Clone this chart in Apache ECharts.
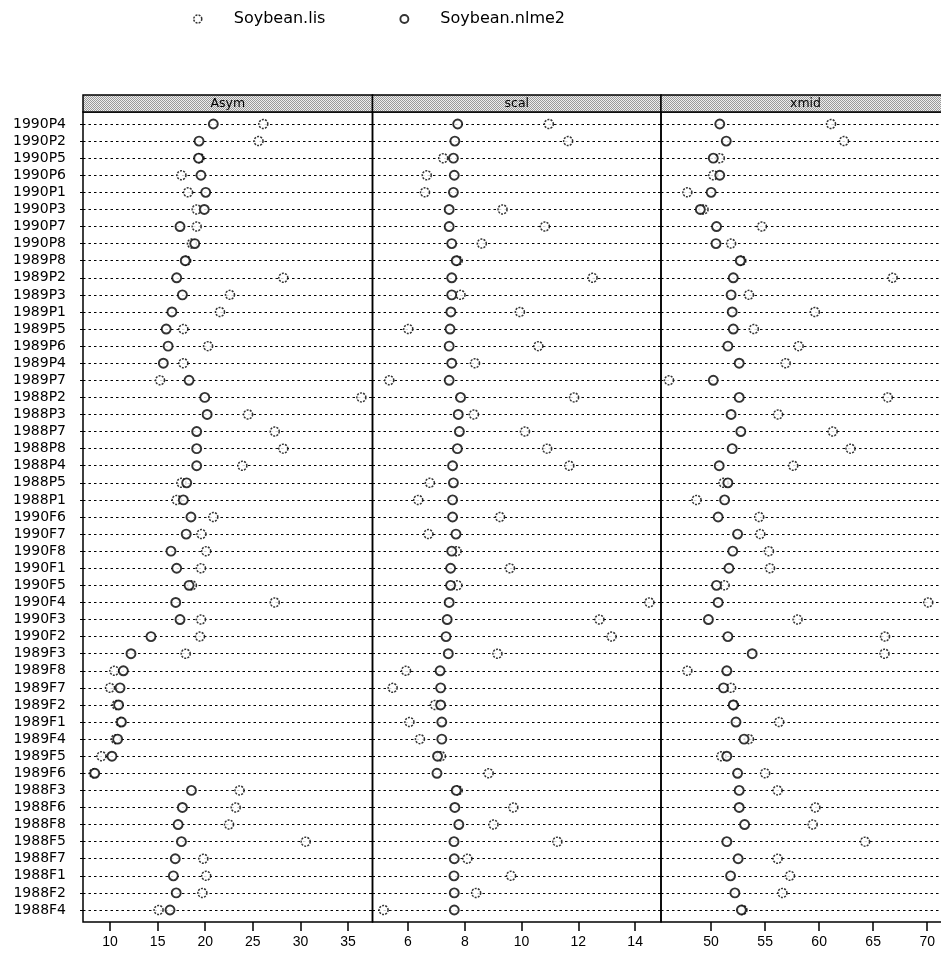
<!DOCTYPE html>
<html>
<head>
<meta charset="utf-8">
<script src="https://cdn.jsdelivr.net/npm/echarts@6/dist/echarts.min.js"></script>
<style>
  html, body { margin: 0; padding: 0; background: #fff; }
  #chart { width: 941px; height: 963px; }
</style>
</head>
<body>
<div id="chart"></div>
<script>
// Plots, top to bottom
const plots = [
  '1990P4','1990P2','1990P5','1990P6','1990P1','1990P3','1990P7','1990P8',
  '1989P8','1989P2','1989P3','1989P1','1989P5','1989P6','1989P4','1989P7',
  '1988P2','1988P3','1988P7','1988P8','1988P4','1988P5','1988P1',
  '1990F6','1990F7','1990F8','1990F1','1990F5','1990F4','1990F3','1990F2',
  '1989F3','1989F8','1989F7','1989F2','1989F1','1989F4','1989F5','1989F6',
  '1988F3','1988F6','1988F8','1988F5','1988F7','1988F1','1988F2','1988F4'
];

// Asym estimates
const asymLis = [
  26.1, 25.6, 19.4, 17.5, 18.2, 19.1, 19.1, 18.6,
  18.0, 28.2, 22.6, 21.55, 17.7, 20.3, 17.7, 15.25,
  36.4, 24.5, 27.3, 28.2, 23.9, 17.5, 17.0,
  20.85, 19.6, 20.1, 19.55, 18.6, 27.3, 19.55, 19.45,
  17.95, 10.45, 10.0, 10.7, 11.1, 10.6, 9.1, 8.3,
  23.6, 23.2, 22.5, 30.55, 19.8, 20.1, 19.7, 15.1
];
const asymNlme = [
  20.85, 19.35, 19.3, 19.55, 20.05, 19.9, 17.35, 18.9,
  17.9, 17.0, 17.6, 16.5, 15.9, 16.1, 15.6, 18.3,
  19.95, 20.2, 19.1, 19.1, 19.1, 18.05, 17.7,
  18.5, 18.0, 16.4, 17.0, 18.3, 16.9, 17.35, 14.3,
  12.2, 11.4, 11.05, 10.9, 11.2, 10.8, 10.2, 8.4,
  18.55, 17.6, 17.15, 17.5, 16.85, 16.65, 16.95, 16.3
];

// scal estimates
const scalLis = [
  10.96, 11.64, 7.24, 6.66, 6.6, 9.33, 10.82, 8.6,
  7.75, 12.5, 7.85, 9.94, 6.01, 10.59, 8.36, 5.34,
  11.85, 8.32, 10.12, 10.9, 11.68, 6.77, 6.36,
  9.24, 6.72, 7.71, 9.59, 7.74, 14.5, 12.74, 13.17,
  9.15, 5.93, 5.46, 6.95, 6.05, 6.42, 7.16, 8.84,
  7.75, 9.71, 9.01, 11.26, 8.09, 9.63, 8.4, 5.14
];
const scalNlme = [
  7.75, 7.65, 7.6, 7.63, 7.6, 7.45, 7.45, 7.54,
  7.7, 7.54, 7.54, 7.51, 7.48, 7.45, 7.54, 7.45,
  7.85, 7.77, 7.81, 7.74, 7.57, 7.6, 7.57,
  7.57, 7.69, 7.54, 7.5, 7.5, 7.45, 7.38, 7.34,
  7.42, 7.13, 7.15, 7.15, 7.19, 7.19, 7.04, 7.02,
  7.7, 7.65, 7.79, 7.62, 7.63, 7.62, 7.63, 7.63
];

// xmid estimates
const xmidLis = [
  61.1, 62.3, 50.8, 50.2, 47.8, 49.3, 54.7, 51.85,
  52.8, 66.8, 53.5, 59.6, 53.95, 58.1, 56.9, 46.1,
  66.35, 56.2, 61.25, 62.9, 57.6, 51.15, 48.65,
  54.45, 54.55, 55.35, 55.45, 51.25, 70.1, 58.0, 66.1,
  66.05, 47.8, 51.85, 52.1, 56.3, 53.5, 50.95, 55.0,
  56.15, 59.65, 59.4, 64.25, 56.15, 57.3, 56.6, 52.9
];
const xmidNlme = [
  50.8, 51.4, 50.2, 50.8, 50.0, 49.0, 50.5, 50.45,
  52.7, 52.05, 51.85, 51.95, 52.05, 51.55, 52.6, 50.2,
  52.6, 51.85, 52.75, 51.95, 50.75, 51.55, 51.25,
  50.65, 52.45, 52.0, 51.65, 50.5, 50.65, 49.75, 51.55,
  53.8, 51.45, 51.15, 52.05, 52.3, 53.05, 51.45, 52.45,
  52.6, 52.6, 53.1, 51.45, 52.5, 51.8, 52.2, 52.8
];

// Tick labels per panel
const asymTicks = [10, 15, 20, 25, 30, 35];
const scalTicks = [6, 8, 10, 12, 14];
const xmidTicks = [50, 55, 60, 65, 70];

const panelNames = ['Asym', 'scal', 'xmid'];

// ---- layout ----
const FONT = 'DejaVu Sans, Liberation Sans, Arial, sans-serif';
const TICKFONT = 'Liberation Sans, Arial, Helvetica, sans-serif';
const rowTop = 124, rowBottom = 910;
const frameTop = 112, frameBottom = 922;
const stripTop = 95;
const panels = [
  { left: 83,    width: 289.5, min: 7.16,  max: 37.57, ticks: asymTicks, lis: asymLis, nlme: asymNlme },
  { left: 372.5, width: 288.5, min: 4.75,  max: 14.91, ticks: scalTicks, lis: scalLis, nlme: scalNlme },
  { left: 661,   width: 289,   min: 45.36, max: 71.28, ticks: xmidTicks, lis: xmidLis, nlme: xmidNlme }
];

// stippled strip fill
const patCanvas = document.createElement('canvas');
patCanvas.width = 2; patCanvas.height = 2;
(function () {
  const c = patCanvas.getContext('2d');
  c.fillStyle = '#eeeeee'; c.fillRect(0, 0, 2, 2);
  c.fillStyle = '#9a9a9a'; c.fillRect(0, 0, 1, 1); c.fillRect(1, 1, 1, 1);
})();

const lisStyle = {
  color: '#fff', borderColor: '#000', borderWidth: 1.5, borderType: [2, 1.2]
};
const nlmeStyle = {
  color: '#fff', borderColor: '#000', borderWidth: 1.9
};

const grid = [], xAxis = [], yAxis = [], series = [], graphic = [];

panels.forEach((p, i) => {
  grid.push({ left: p.left, width: p.width, top: rowTop, height: rowBottom - rowTop });
  xAxis.push({
    gridIndex: i, type: 'value', min: p.min, max: p.max,
    offset: frameBottom - rowBottom,
    axisLine: { show: false },
    splitLine: { show: false },
    axisTick: { show: true, length: 9, lineStyle: { color: '#000', width: 1.5 }, customValues: p.ticks },
    axisLabel: { customValues: p.ticks, margin: 13, color: '#000', fontSize: 14, fontFamily: TICKFONT }
  });
  yAxis.push({
    gridIndex: i, type: 'category', data: plots, inverse: true, boundaryGap: false,
    axisLine: { show: false },
    axisTick: { show: true, interval: 0, length: 3, lineStyle: { color: '#000', width: 1 } },
    axisLabel: { show: i === 0, interval: 0, margin: 17, color: '#000', fontSize: 14, fontFamily: FONT },
    splitLine: { show: true, interval: 0, lineStyle: { color: '#000', width: 1, type: [2.5, 3] } }
  });
  series.push({
    name: 'Soybean.lis', type: 'scatter', xAxisIndex: i, yAxisIndex: i,
    symbol: 'circle', symbolSize: 9, itemStyle: lisStyle, z: 3,
    data: p.lis.map((v, k) => [v, plots[k]])
  });
  series.push({
    name: 'Soybean.nlme2', type: 'scatter', xAxisIndex: i, yAxisIndex: i,
    symbol: 'circle', symbolSize: 9, itemStyle: nlmeStyle, z: 4,
    data: p.nlme.map((v, k) => [v, plots[k]])
  });
  // panel frame
  graphic.push({
    type: 'rect', z: 10, silent: true,
    shape: { x: p.left, y: frameTop, width: p.width, height: frameBottom - frameTop },
    style: { fill: 'none', stroke: '#000', lineWidth: 1.5 }
  });
  // strip with panel name
  graphic.push({
    type: 'rect', z: 10, silent: true,
    shape: { x: p.left, y: stripTop, width: p.width, height: frameTop - stripTop },
    style: { fill: { image: patCanvas, repeat: 'repeat' }, stroke: '#000', lineWidth: 1.5 }
  });
  graphic.push({
    type: 'text', z: 11, silent: true,
    x: p.left + p.width / 2, y: (stripTop + frameTop) / 2,
    style: { text: panelNames[i], fill: '#000', font: '12.5px ' + FONT, align: 'center', verticalAlign: 'middle' }
  });
});

const chart = echarts.init(document.getElementById('chart'), null, { renderer: 'canvas' });
chart.setOption({
  animation: false,
  backgroundColor: '#fff',
  legend: {
    top: 6, left: 188, itemGap: 74,
    itemWidth: 8, itemHeight: 8,
    textStyle: { fontSize: 16, fontFamily: FONT, color: '#000', padding: [0, 0, 0, 27] },
    data: [
      { name: 'Soybean.lis', icon: 'circle', itemStyle: lisStyle },
      { name: 'Soybean.nlme2', icon: 'circle', itemStyle: nlmeStyle }
    ]
  },
  grid, xAxis, yAxis, series, graphic
});
</script>
</body>
</html>
